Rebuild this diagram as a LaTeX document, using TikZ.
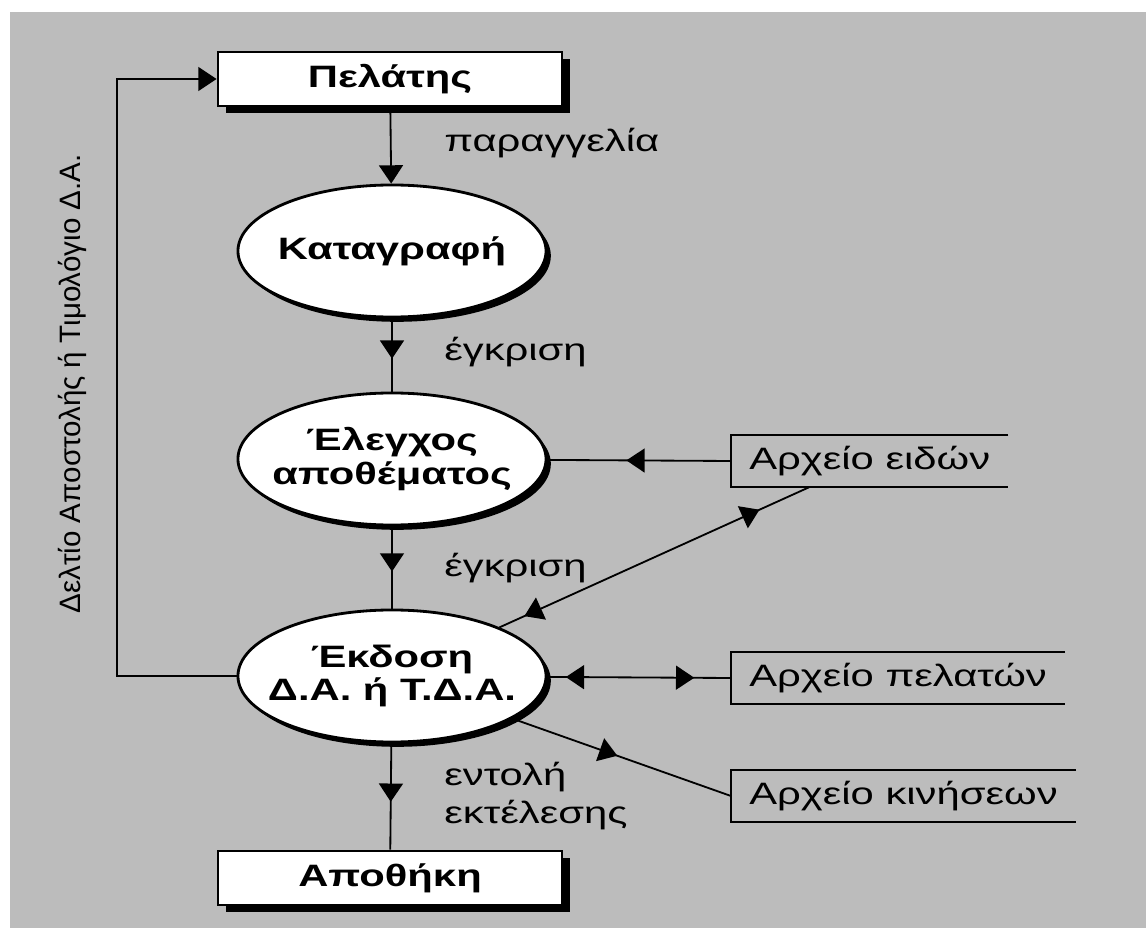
\documentclass[tikz,border=0pt]{standalone}
\usepackage{fontspec}
\setmainfont{Liberation Sans}[FakeStretch=1.35]
\newfontfamily\sidefont{Liberation Sans}
\usetikzlibrary{arrows.meta,decorations.markings,shadows,shapes.geometric}
\definecolor{scangray}{RGB}{188,188,188}

\begin{document}
\begin{tikzpicture}[x=0.025cm, y=-0.025cm,
    flowhead/.tip ={Triangle[width=17pt,length=13pt]},
    flow/.style ={line width=1.3pt},
    tipat/.style ={postaction={decorate, decoration={markings,
        mark=at position #1 with {\arrow{flowhead}}}}},
    tipback/.style ={postaction={decorate, decoration={markings,
        mark=at position #1 with {\arrowreversed{flowhead}}}}},
    terminal/.style ={rectangle, draw, line width=2pt, fill=white,
        minimum width=8.6cm, minimum height=1.35cm,
        font=\bfseries\fontsize{22}{26}\selectfont,
        drop shadow={shadow xshift=0.2cm, shadow yshift=-0.18cm, fill=black, opacity=1}},
    process/.style ={ellipse, draw, line width=2pt, fill=white,
        inner xsep=-1cm, inner ysep=0pt,
        minimum width=7.7cm, minimum height=3.3cm, align=center,
        font=\bfseries\fontsize{22}{24}\selectfont,
        drop shadow={shadow xshift=0.12cm, shadow yshift=-0.12cm, fill=black, opacity=1}},
    filestore/.style ={anchor=west, inner xsep=0.45cm, minimum height=1.3cm,
        font=\fontsize{22}{26}\selectfont},
    flowlabel/.style ={anchor=west, inner sep=0pt, align=left,
        font=\fontsize{22}{27}\selectfont}]
   \useasboundingbox (0,0) rectangle (1146,938);
   \fill[scangray] (10,12) rectangle (1146,928);

   \node[terminal] (pelatis)   at (390,79)  {Πελάτης};
   \node[process]  (katagrafi) at (392,251) {Καταγραφή};
   \node[process]  (elegxos)   at (392,459) {Έλεγχος\\αποθέματος};
   \node[process]  (ekdosi)    at (392,676) {Έκδοση\\Δ.Α. ή Τ.Δ.Α.};
   \node[terminal] (apothiki)  at (390,878) {Αποθήκη};

   \node[filestore] (eidwn)    at (731,461) {Αρχείο ειδών};
   \node[filestore] (pelatwn)  at (731,678) {Αρχείο πελατών};
   \node[filestore] (kiniseon) at (731,796) {Αρχείο κινήσεων};
   \foreach \f in {eidwn,pelatwn,kiniseon}
     \draw[flow] (\f.north east) -- (\f.north west) -- (\f.south west) -- (\f.south east);

   \node[flowlabel] (paraggelia) at (444,143) {παραγγελία};
   \node[flowlabel] (egkrisiA)   at (444,352) {έγκριση};
   \node[flowlabel] (egkrisiB)   at (444,568) {έγκριση};
   \node[flowlabel] (entoli)     at (444,796) {εντολή\\εκτέλεσης};
   \node[rotate=90, font=\sidefont\fontsize{21}{25}\selectfont] (deltio)
     at (72,384) {Δελτίο Αποστολής ή Τιμολόγιο Δ.Α.};

   \coordinate (corner) at (117,676);

   \draw[flow, -{flowhead}] (pelatis) to (katagrafi);
   \draw[flow, tipat=0.55] (katagrafi) to (elegxos);
   \draw[flow, tipat=0.55] (elegxos) to (ekdosi);
   \draw[flow, tipat=0.55] (ekdosi) to (apothiki);
   \draw[flow, tipat=0.57] (eidwn.west) to (elegxos);
   \draw[flow, tipback=0.1, tipat=0.8] (ekdosi) to (pelatwn.west);
   \draw[flow, tipback=0.08, tipat=0.84] (ekdosi) to ([xshift=1.95cm]eidwn.south west);
   \draw[flow, tipat=0.48] (ekdosi) to (kiniseon.west);
   \draw[flow, -{flowhead}] (ekdosi.west) -- (corner) |- (pelatis.west);
 \end{tikzpicture}
\end{document}
